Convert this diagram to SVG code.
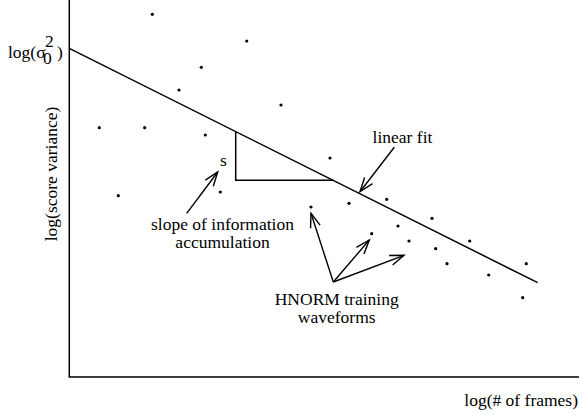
<svg xmlns="http://www.w3.org/2000/svg" width="579" height="417" viewBox="0 0 579 417">
<style>
.t{font-family:'Liberation Serif','Times New Roman','DejaVu Serif',serif;font-size:17.5px;fill:#000}
.ln{stroke:#000;stroke-width:1.5;fill:none}
.ar{stroke:#000;stroke-width:1.4;fill:none}
.dot{fill:#000}
</style>
<defs>
<marker id="open" markerUnits="userSpaceOnUse" markerWidth="16" markerHeight="12" refX="14" refY="5" orient="auto" overflow="visible">
<path d="M0,0 L14,5 L0,10" fill="none" stroke="#000" stroke-width="1.4"/>
</marker>
</defs>
<g id="axes">
<line class="ln" x1="69.3" y1="0" x2="69.3" y2="377"/>
<line class="ln" x1="68.6" y1="377" x2="579" y2="377"/>
<text class="t" font-family="Liberation Serif, serif" x="578" y="406" text-anchor="end">log(# of frames)</text>
<text class="t" font-family="Liberation Serif, serif" transform="translate(57,174) rotate(-90)" text-anchor="middle">log(score variance)</text>
</g>
<g id="intercept">
<text class="t" font-family="Liberation Serif, serif" font-size="16" x="8" y="58">log(σ<tspan x="45" y="47">2</tspan><tspan x="43" y="64">0</tspan><tspan x="57" y="58">)</tspan></text>
</g>
<g id="fit">
<line class="ln" x1="69.3" y1="48.3" x2="537.7" y2="282.7"/>
<polyline class="ln" points="235.7,131.7 235.7,180.3 333.3,180.3"/>
</g>
<g id="dots">
<circle class="dot" cx="152.3" cy="14.3" r="1.6"/>
<circle class="dot" cx="246.7" cy="41" r="1.6"/>
<circle class="dot" cx="201.3" cy="67.3" r="1.6"/>
<circle class="dot" cx="179" cy="90" r="1.6"/>
<circle class="dot" cx="281" cy="105" r="1.6"/>
<circle class="dot" cx="99.3" cy="127.7" r="1.6"/>
<circle class="dot" cx="144.7" cy="127.7" r="1.6"/>
<circle class="dot" cx="205.3" cy="135" r="1.6"/>
<circle class="dot" cx="118.3" cy="195.7" r="1.6"/>
<circle class="dot" cx="220.3" cy="192" r="1.6"/>
<circle class="dot" cx="330" cy="158" r="1.6"/>
<circle class="dot" cx="349" cy="203.3" r="1.6"/>
<circle class="dot" cx="386.7" cy="199.3" r="1.6"/>
<circle class="dot" cx="311" cy="207" r="1.6"/>
<circle class="dot" cx="432" cy="218.3" r="1.6"/>
<circle class="dot" cx="398" cy="226" r="1.6"/>
<circle class="dot" cx="371.7" cy="233.7" r="1.6"/>
<circle class="dot" cx="409" cy="241" r="1.6"/>
<circle class="dot" cx="469.7" cy="241" r="1.6"/>
<circle class="dot" cx="435.7" cy="248.7" r="1.6"/>
<circle class="dot" cx="447" cy="263.7" r="1.6"/>
<circle class="dot" cx="526.3" cy="263.7" r="1.6"/>
<circle class="dot" cx="488.7" cy="275" r="1.6"/>
<circle class="dot" cx="522.7" cy="297.7" r="1.6"/>
</g>
<g id="connectors">
<line class="ar" x1="394.3" y1="147.3" x2="360" y2="191.7" marker-end="url(#open)"/>
<line class="ar" x1="186.7" y1="213.3" x2="217.7" y2="172" marker-end="url(#open)"/>
<line class="ar" x1="333.3" y1="282" x2="311" y2="213.3" marker-end="url(#open)"/>
<line class="ar" x1="333.3" y1="282" x2="369.3" y2="240" marker-end="url(#open)"/>
<line class="ar" x1="333.3" y1="282" x2="404" y2="255.3" marker-end="url(#open)"/>
</g>
<g id="labels" font-family="Liberation Serif, serif">
<text class="t" x="220" y="166" font-size="16">s</text>
<text class="t" x="402.5" y="142.7" text-anchor="middle">linear fit</text>
<text class="t" x="222.5" y="230" text-anchor="middle">slope of information</text>
<text class="t" x="222.5" y="248" text-anchor="middle">accumulation</text>
<text class="t" x="336.7" y="305" text-anchor="middle">HNORM training</text>
<text class="t" x="336.7" y="323.3" text-anchor="middle">waveforms</text>
</g>
</svg>
